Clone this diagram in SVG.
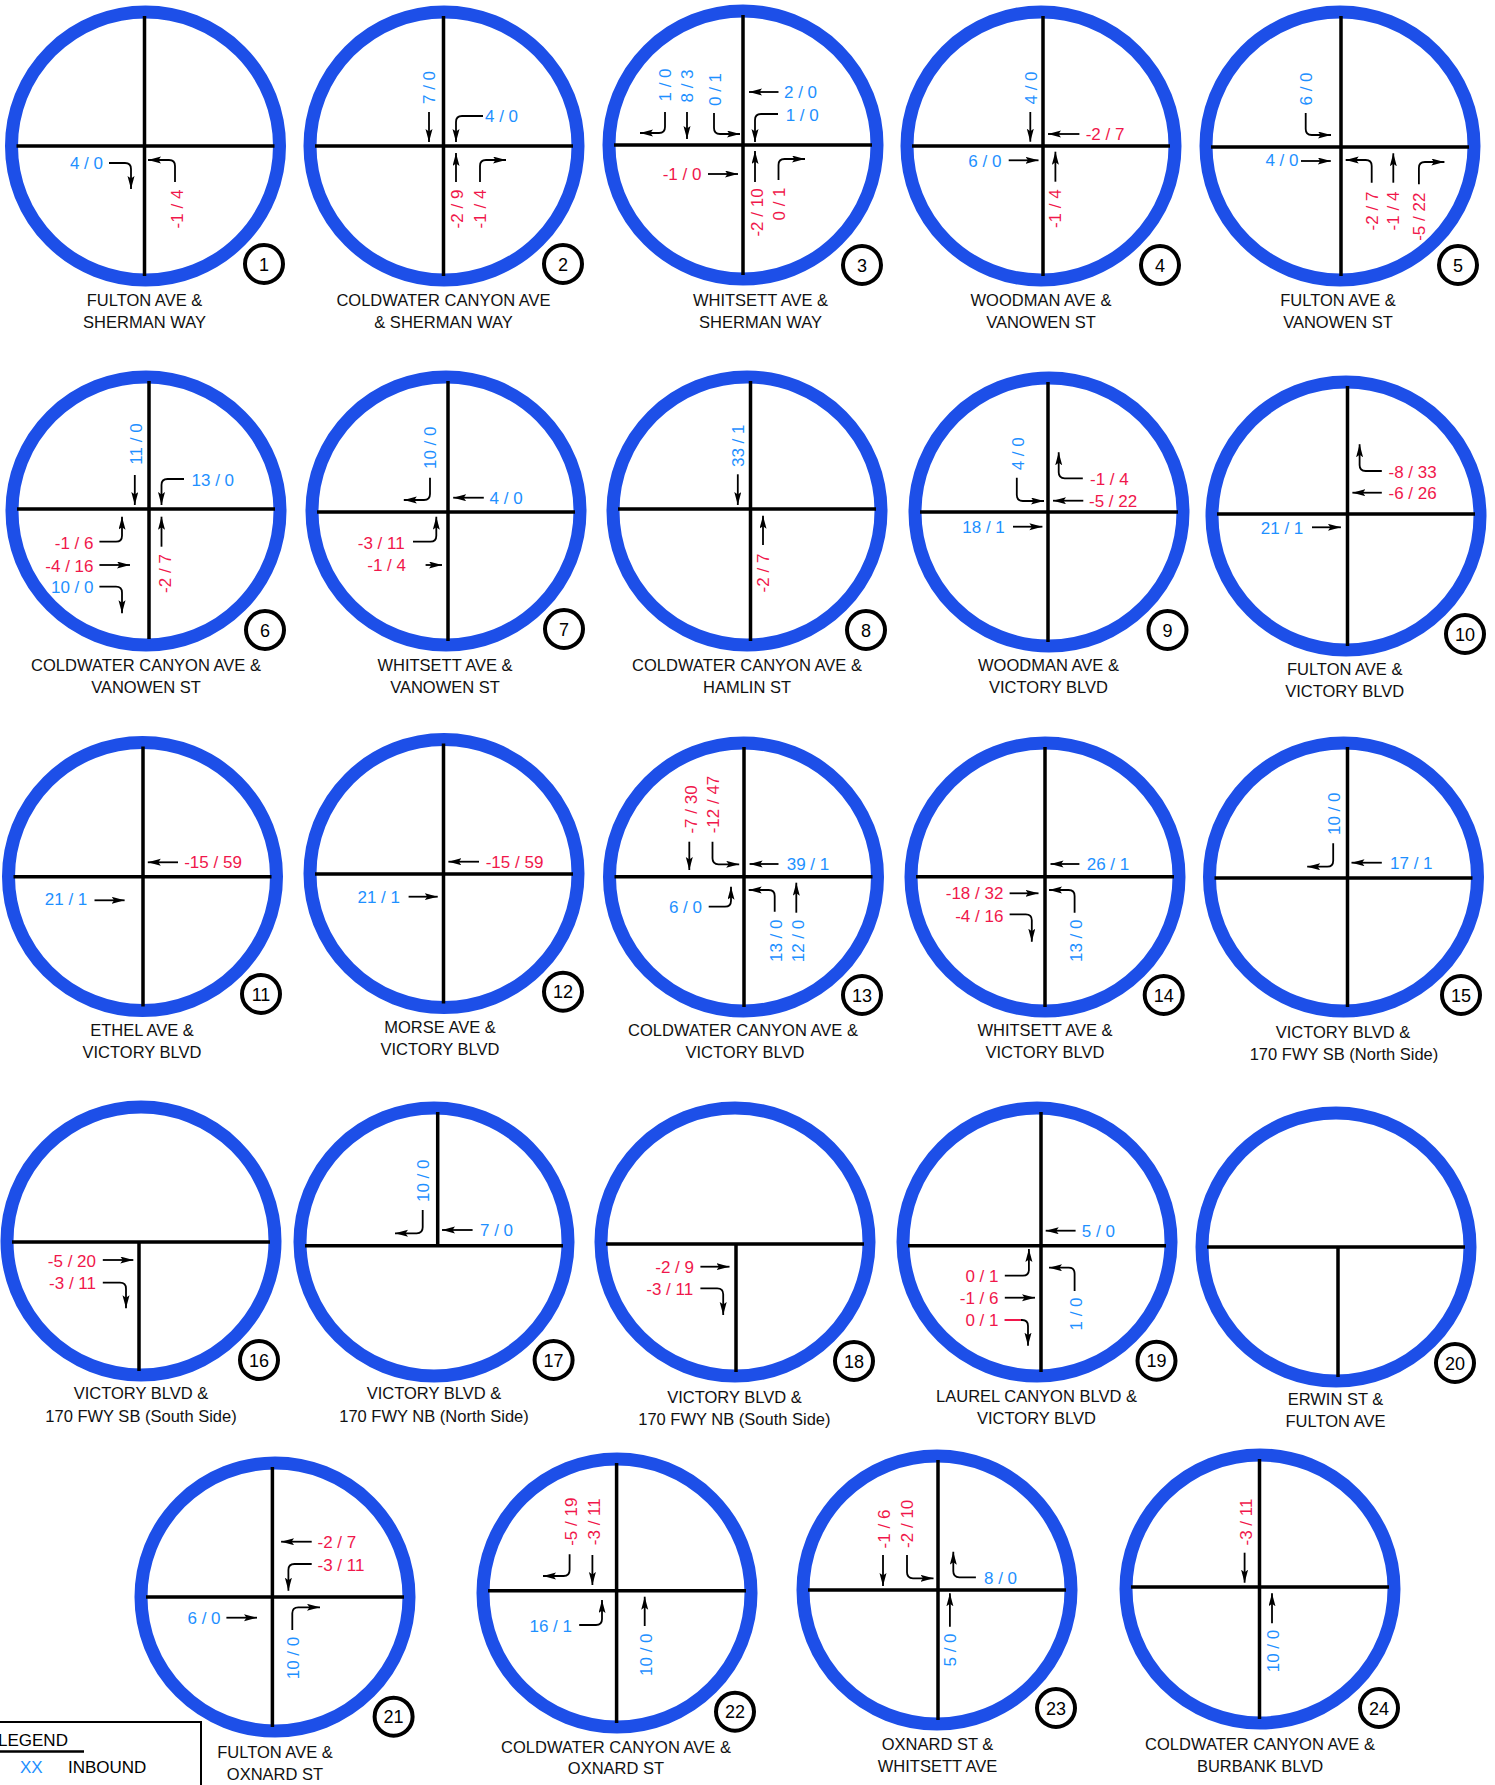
<svg xmlns="http://www.w3.org/2000/svg" width="1495" height="1785" viewBox="0 0 1495 1785">
<defs>
<marker id="ah" markerUnits="userSpaceOnUse" markerWidth="14" markerHeight="8" refX="13" refY="3.5" orient="auto"><path d="M0,0 L13,3.5 L0,7 L2.5,3.5 z" fill="#000"/></marker>
<style>
text{font-family:"Liberation Sans",Arial,sans-serif;font-size:17px}
.ring{fill:none;stroke:#1d4fe8;stroke-width:13}
.rd{fill:none;stroke:#000;stroke-width:3.5}
.ar{fill:none;stroke:#000;stroke-width:1.8;marker-end:url(#ah)}
.b{fill:#1e90ff}
.r{fill:#f0174b}
.e{text-anchor:end}
.v{text-anchor:middle}
.lb{font-size:16.5px;fill:#111;text-anchor:middle}
.bc{fill:#fff;stroke:#000;stroke-width:4}
.bn{font-size:18px;text-anchor:middle;fill:#000}
</style>
</defs>
<rect width="1495" height="1785" fill="#fff"/>

<g id="n1">
<circle class="ring" cx="145.5" cy="146" r="134"/>
<path class="rd" d="M16.5,146 H274.5 M144.5,16 V276"/>
<path class="ar" d="M109,163 H125 Q131,163 131,169 V189"/>
<path class="ar" d="M175,182 V166 Q175,160 169,160 H148"/>
<text class="b e" x="103" y="169">4 / 0</text>
<text class="r v" transform="translate(177,209) rotate(-90)" y="6">-1 / 4</text>
<circle class="bc" cx="264" cy="264" r="19"/><text class="bn" x="264" y="270.5">1</text>
<text class="lb" x="144.5" y="306">FULTON AVE &amp;</text><text class="lb" x="144.5" y="328">SHERMAN WAY</text>
</g>

<g id="n2">
<circle class="ring" cx="444" cy="146" r="134"/>
<path class="rd" d="M315,146 H573 M443.5,16 V276"/>
<path class="ar" d="M429,112 V142"/>
<path class="ar" d="M483,116 H462 Q456,116 456,122 V142"/>
<path class="ar" d="M456,182 V153"/>
<path class="ar" d="M480,182 V166 Q480,160 486,160 H506"/>
<text class="b v" transform="translate(429,87.5) rotate(-90)" y="6">7 / 0</text>
<text class="b" x="485" y="122">4 / 0</text>
<text class="r v" transform="translate(457,209) rotate(-90)" y="6">-2 / 9</text>
<text class="r v" transform="translate(480,209) rotate(-90)" y="6">-1 / 4</text>
<circle class="bc" cx="563" cy="264" r="19"/><text class="bn" x="563" y="270.5">2</text>
<text class="lb" x="443.5" y="306">COLDWATER CANYON AVE</text><text class="lb" x="443.5" y="328">&amp; SHERMAN WAY</text>
</g>

<g id="n3">
<circle class="ring" cx="743" cy="145" r="134"/>
<path class="rd" d="M614,145 H872 M743,15 V275"/>
<path class="ar" d="M665,112 V127 Q665,133 659,133 H640"/>
<path class="ar" d="M687,112 V139"/>
<path class="ar" d="M714,113 V128 Q714,134 720,134 H740"/>
<path class="ar" d="M708,174 H738"/>
<path class="ar" d="M755,182 V151"/>
<path class="ar" d="M778,114 H761 Q755,114 755,120 V142"/>
<path class="ar" d="M778.5,92 H749"/>
<path class="ar" d="M778.5,180 V165 Q778.5,159 784.5,159 H805"/>
<text class="b v" transform="translate(665,85) rotate(-90)" y="6">1 / 0</text>
<text class="b v" transform="translate(687,86) rotate(-90)" y="6">8 / 3</text>
<text class="b v" transform="translate(715,89.5) rotate(-90)" y="6">0 / 1</text>
<text class="b" x="784" y="98.3">2 / 0</text>
<text class="b" x="785.7" y="120.7">1 / 0</text>
<text class="r e" x="701.4" y="180">-1 / 0</text>
<text class="r v" transform="translate(757,212.5) rotate(-90)" y="6">-2 / 10</text>
<text class="r v" transform="translate(778.5,204) rotate(-90)" y="6">0 / 1</text>
<circle class="bc" cx="862" cy="265" r="19"/><text class="bn" x="862" y="271.5">3</text>
<text class="lb" x="760.5" y="306">WHITSETT AVE &amp;</text><text class="lb" x="760.5" y="328">SHERMAN WAY</text>
</g>

<g id="n4">
<circle class="ring" cx="1041" cy="146" r="134"/>
<path class="rd" d="M912,146 H1170 M1043,16 V276"/>
<path class="ar" d="M1030.3,112 V141.7"/>
<path class="ar" d="M1079.4,134 H1048"/>
<path class="ar" d="M1008.7,160.3 H1038.5"/>
<path class="ar" d="M1055.4,181.7 V151.7"/>
<text class="b v" transform="translate(1031,88) rotate(-90)" y="6">4 / 0</text>
<text class="r" x="1085.7" y="140">-2 / 7</text>
<text class="b e" x="1001.4" y="166.7">6 / 0</text>
<text class="r v" transform="translate(1055.4,208.7) rotate(-90)" y="6">-1 / 4</text>
<circle class="bc" cx="1160" cy="265" r="19"/><text class="bn" x="1160" y="271.5">4</text>
<text class="lb" x="1041" y="306">WOODMAN AVE &amp;</text><text class="lb" x="1041" y="328">VANOWEN ST</text>
</g>

<g id="n5">
<circle class="ring" cx="1340" cy="146" r="134"/>
<path class="rd" d="M1211,147 H1469 M1341,16 V276"/>
<path class="ar" d="M1305.7,113 V129 Q1305.7,135 1311.7,135 H1331"/>
<path class="ar" d="M1301,161 H1330.8"/>
<path class="ar" d="M1371.7,182.7 V166 Q1371.7,160 1365.7,160 H1345.7"/>
<path class="ar" d="M1393.3,182.7 V153.3"/>
<path class="ar" d="M1418.9,184.3 V168 Q1418.9,162 1424.9,162 H1444.4"/>
<text class="b v" transform="translate(1305.7,89) rotate(-90)" y="6">6 / 0</text>
<text class="b e" x="1298.5" y="165.7">4 / 0</text>
<text class="r v" transform="translate(1371.7,211) rotate(-90)" y="6">-2 / 7</text>
<text class="r v" transform="translate(1393.3,211) rotate(-90)" y="6">-1 / 4</text>
<text class="r v" transform="translate(1418.9,216.7) rotate(-90)" y="6">-5 / 22</text>
<circle class="bc" cx="1458" cy="265" r="19"/><text class="bn" x="1458" y="271.5">5</text>
<text class="lb" x="1338" y="306">FULTON AVE &amp;</text><text class="lb" x="1338" y="328">VANOWEN ST</text>
</g>

<g id="n6">
<circle class="ring" cx="146" cy="511" r="134"/>
<path class="rd" d="M17,509 H275 M149,381 V639"/>
<path class="ar" d="M134.8,475 V505"/>
<path class="ar" d="M184,479 H167.5 Q161.5,479 161.5,485 V505"/>
<path class="ar" d="M161.5,546.7 V516.7"/>
<path class="ar" d="M99.4,541.7 H116 Q122,541.7 122,535.7 V516.7"/>
<path class="ar" d="M99.4,565 H130"/>
<path class="ar" d="M99.4,586.7 H116 Q122,586.7 122,592.7 V613.3"/>
<text class="b v" transform="translate(135.7,444) rotate(-90)" y="6">11 / 0</text>
<text class="b" x="191.5" y="485.7">13 / 0</text>
<text class="r v" transform="translate(164.8,573.5) rotate(-90)" y="6">-2 / 7</text>
<text class="r e" x="93.5" y="549">-1 / 6</text>
<text class="r e" x="93.5" y="571.7">-4 / 16</text>
<text class="b e" x="93.5" y="593.3">10 / 0</text>
<circle class="bc" cx="265" cy="630" r="19"/><text class="bn" x="265" y="636.5">6</text>
<text class="lb" x="146" y="671">COLDWATER CANYON AVE &amp;</text><text class="lb" x="146" y="693">VANOWEN ST</text>
</g>

<g id="n7">
<circle class="ring" cx="446" cy="511" r="134"/>
<path class="rd" d="M317,512 H575 M448,381 V641"/>
<path class="ar" d="M430,477.7 V494 Q430,500 424,500 H403.8"/>
<path class="ar" d="M483.8,497.7 H453.2"/>
<path class="ar" d="M413,541.7 H430.3 Q436.3,541.7 436.3,535.7 V516.7"/>
<path class="ar" d="M425.6,565 H442"/>
<text class="b v" transform="translate(430.4,447.8) rotate(-90)" y="6">10 / 0</text>
<text class="b" x="489.6" y="504">4 / 0</text>
<text class="r e" x="404.7" y="549.3">-3 / 11</text>
<text class="r e" x="406" y="570.7">-1 / 4</text>
<circle class="bc" cx="564" cy="629" r="19"/><text class="bn" x="564" y="635.5">7</text>
<text class="lb" x="445" y="671">WHITSETT AVE &amp;</text><text class="lb" x="445" y="693">VANOWEN ST</text>
</g>

<g id="n8">
<circle class="ring" cx="747" cy="511" r="134"/>
<path class="rd" d="M618,509 H876 M750.5,381 V641"/>
<path class="ar" d="M737.8,474.3 V505"/>
<path class="ar" d="M763,545 V515.7"/>
<text class="b v" transform="translate(737.8,445.8) rotate(-90)" y="6">33 / 1</text>
<text class="r v" transform="translate(763,573) rotate(-90)" y="6">-2 / 7</text>
<circle class="bc" cx="866" cy="630" r="19"/><text class="bn" x="866" y="636.5">8</text>
<text class="lb" x="747" y="671">COLDWATER CANYON AVE &amp;</text><text class="lb" x="747" y="693">HAMLIN ST</text>
</g>

<g id="n9">
<circle class="ring" cx="1049" cy="512" r="134"/>
<path class="rd" d="M920,512 H1178 M1048,382 V642"/>
<path class="ar" d="M1016.8,477.7 V495 Q1016.8,501 1022.8,501 H1044"/>
<path class="ar" d="M1083.3,500.7 H1053"/>
<path class="ar" d="M1082.8,478.3 H1064.7 Q1058.7,478.3 1058.7,472.3 V452.3"/>
<path class="ar" d="M1013,526.7 H1042.4"/>
<text class="b v" transform="translate(1018.3,453.8) rotate(-90)" y="6">4 / 0</text>
<text class="r" x="1089" y="507.3">-5 / 22</text>
<text class="r" x="1090" y="485">-1 / 4</text>
<text class="b e" x="1004.8" y="533.3">18 / 1</text>
<circle class="bc" cx="1167.5" cy="630" r="19"/><text class="bn" x="1167.5" y="636.5">9</text>
<text class="lb" x="1048.5" y="671">WOODMAN AVE &amp;</text><text class="lb" x="1048.5" y="693">VICTORY BLVD</text>
</g>

<g id="n10">
<circle class="ring" cx="1346" cy="516" r="134"/>
<path class="rd" d="M1217,514 H1475 M1347.5,386 V646"/>
<path class="ar" d="M1381.8,471 H1365.6 Q1359.6,471 1359.6,465 V444.3"/>
<path class="ar" d="M1381.8,492.7 H1352.4"/>
<path class="ar" d="M1312,527.3 H1340.9"/>
<text class="r" x="1388.5" y="477.7">-8 / 33</text>
<text class="r" x="1388.5" y="499.3">-6 / 26</text>
<text class="b e" x="1303.3" y="534">21 / 1</text>
<circle class="bc" cx="1465" cy="634" r="19"/><text class="bn" x="1465" y="640.5">10</text>
<text class="lb" x="1344.7" y="675">FULTON AVE &amp;</text><text class="lb" x="1344.7" y="697">VICTORY BLVD</text>
</g>

<g id="n11">
<circle class="ring" cx="142.5" cy="876.5" r="134"/>
<path class="rd" d="M13.5,876.7 H271.5 M143,746.5 V1006.5"/>
<path class="ar" d="M178,862.3 H147.8"/>
<path class="ar" d="M94.5,900.3 H124.6"/>
<text class="r" x="184.2" y="868.3">-15 / 59</text>
<text class="b e" x="87.3" y="905">21 / 1</text>
<circle class="bc" cx="261" cy="994" r="19"/><text class="bn" x="261" y="1000.5">11</text>
<text class="lb" x="142" y="1036">ETHEL AVE &amp;</text><text class="lb" x="142" y="1058">VICTORY BLVD</text>
</g>

<g id="n12">
<circle class="ring" cx="444" cy="873.5" r="134"/>
<path class="rd" d="M315,874 H573 M443.5,743.5 V1003.5"/>
<path class="ar" d="M479,861.7 H448.4"/>
<path class="ar" d="M408.6,896.7 H437.7"/>
<text class="r" x="485.7" y="868.3">-15 / 59</text>
<text class="b e" x="400" y="903.3">21 / 1</text>
<circle class="bc" cx="563" cy="991.7" r="19"/><text class="bn" x="563" y="998.2">12</text>
<text class="lb" x="440" y="1033">MORSE AVE &amp;</text><text class="lb" x="440" y="1055">VICTORY BLVD</text>
</g>

<g id="n13">
<circle class="ring" cx="743.5" cy="877" r="134"/>
<path class="rd" d="M614.5,876.7 H872.5 M744,747 V1007"/>
<path class="ar" d="M689.3,841.7 V870"/>
<path class="ar" d="M712.5,841.7 V858.3 Q712.5,864.3 718.5,864.3 H739.2"/>
<path class="ar" d="M708.7,906.7 H725 Q731,906.7 731,900.7 V886.7"/>
<path class="ar" d="M778.5,864 H749.6"/>
<path class="ar" d="M774.7,911.7 V896 Q774.7,890 768.7,890 H748.7"/>
<path class="ar" d="M796.3,912.7 V882.7"/>
<text class="r v" transform="translate(690.7,809.5) rotate(-90)" y="6">-7 / 30</text>
<text class="r v" transform="translate(712.5,804.5) rotate(-90)" y="6">-12 / 47</text>
<text class="b e" x="702" y="913.3">6 / 0</text>
<text class="b" x="786.7" y="870">39 / 1</text>
<text class="b v" transform="translate(776,940.8) rotate(-90)" y="6">13 / 0</text>
<text class="b v" transform="translate(797.8,941) rotate(-90)" y="6">12 / 0</text>
<circle class="bc" cx="862" cy="995" r="19"/><text class="bn" x="862" y="1001.5">13</text>
<text class="lb" x="743" y="1036">COLDWATER CANYON AVE &amp;</text><text class="lb" x="745" y="1058">VICTORY BLVD</text>
</g>

<g id="n14">
<circle class="ring" cx="1045" cy="877" r="134"/>
<path class="rd" d="M916,876.7 H1174 M1045,747 V1007"/>
<path class="ar" d="M1079.4,864 H1050.5"/>
<path class="ar" d="M1009.6,893.3 H1038.5"/>
<path class="ar" d="M1009.6,914.3 H1025.8 Q1031.8,914.3 1031.8,920.3 V941.7"/>
<path class="ar" d="M1074.6,912.7 V896 Q1074.6,890 1068.6,890 H1049"/>
<text class="b" x="1086.7" y="870">26 / 1</text>
<text class="r e" x="1003.4" y="899.3">-18 / 32</text>
<text class="r e" x="1003.4" y="921.7">-4 / 16</text>
<text class="b v" transform="translate(1075.6,940.8) rotate(-90)" y="6">13 / 0</text>
<circle class="bc" cx="1163.7" cy="995" r="19"/><text class="bn" x="1163.7" y="1001.5">14</text>
<text class="lb" x="1045" y="1036">WHITSETT AVE &amp;</text><text class="lb" x="1045" y="1058">VICTORY BLVD</text>
</g>

<g id="n15">
<circle class="ring" cx="1343.5" cy="877" r="134"/>
<path class="rd" d="M1214.5,878 H1472.5 M1347.5,747 V1007"/>
<path class="ar" d="M1333.2,843.3 V860.7 Q1333.2,866.7 1327.2,866.7 H1307.2"/>
<path class="ar" d="M1381.8,862.7 H1351.5"/>
<text class="b v" transform="translate(1333.6,813.8) rotate(-90)" y="6">10 / 0</text>
<text class="b" x="1390" y="869.3">17 / 1</text>
<circle class="bc" cx="1461" cy="995" r="19"/><text class="bn" x="1461" y="1001.5">15</text>
<text class="lb" x="1343" y="1038">VICTORY BLVD &amp;</text><text class="lb" x="1344" y="1060">170 FWY SB (North Side)</text>
</g>

<g id="n16">
<circle class="ring" cx="141" cy="1241" r="134"/>
<path class="rd" d="M12,1242 H270 M139,1242 V1371"/>
<path class="ar" d="M102.8,1260 H133.3"/>
<path class="ar" d="M102.8,1282.7 H120 Q126,1282.7 126,1288.7 V1308.3"/>
<text class="r e" x="96" y="1266.7">-5 / 20</text>
<text class="r e" x="96" y="1289">-3 / 11</text>
<circle class="bc" cx="259" cy="1360" r="19"/><text class="bn" x="259" y="1366.5">16</text>
<text class="lb" x="141" y="1399">VICTORY BLVD &amp;</text><text class="lb" x="141" y="1422">170 FWY SB (South Side)</text>
</g>

<g id="n17">
<circle class="ring" cx="434" cy="1242" r="134"/>
<path class="rd" d="M305,1245.7 H563 M437.7,1112 V1245.7"/>
<path class="ar" d="M422.7,1210 V1227.3 Q422.7,1233.3 416.7,1233.3 H395"/>
<path class="ar" d="M472.6,1230 H442"/>
<text class="b v" transform="translate(423.2,1180.8) rotate(-90)" y="6">10 / 0</text>
<text class="b" x="480" y="1236">7 / 0</text>
<circle class="bc" cx="553.6" cy="1360" r="19"/><text class="bn" x="553.6" y="1366.5">17</text>
<text class="lb" x="434" y="1399">VICTORY BLVD &amp;</text><text class="lb" x="434" y="1422">170 FWY NB (North Side)</text>
</g>

<g id="n18">
<circle class="ring" cx="735" cy="1242" r="134"/>
<path class="rd" d="M606,1244 H864 M736,1244 V1372"/>
<path class="ar" d="M700.4,1266.7 H729.5"/>
<path class="ar" d="M700.4,1288.3 H717.2 Q723.2,1288.3 723.2,1294.3 V1315"/>
<text class="r e" x="694" y="1272.7">-2 / 9</text>
<text class="r e" x="693.2" y="1295">-3 / 11</text>
<circle class="bc" cx="854" cy="1361" r="19"/><text class="bn" x="854" y="1367.5">18</text>
<text class="lb" x="734.4" y="1403">VICTORY BLVD &amp;</text><text class="lb" x="734.4" y="1425">170 FWY NB (South Side)</text>
</g>

<g id="n19">
<circle class="ring" cx="1037" cy="1242" r="134"/>
<path class="rd" d="M908,1245.7 H1166 M1041,1112 V1372"/>
<path class="ar" d="M1075.6,1230.7 H1045.7"/>
<path class="ar" d="M1004.8,1275.7 H1022.9 Q1028.9,1275.7 1028.9,1269.7 V1249"/>
<path class="ar" d="M1004.8,1297.7 H1035"/>
<path class="ar" d="M1004.8,1320 H1022 Q1028,1320 1028,1326 V1345.7"/>
<path d="M1004.8,1320 H1021" stroke="#f0174b" stroke-width="2"/>
<path class="ar" d="M1074.6,1291 V1273.7 Q1074.6,1267.7 1068.6,1267.7 H1049"/>
<text class="b" x="1081.8" y="1236.7">5 / 0</text>
<text class="r e" x="998.5" y="1281.7">0 / 1</text>
<text class="r e" x="998.5" y="1304">-1 / 6</text>
<text class="r e" x="998.5" y="1326">0 / 1</text>
<text class="b v" transform="translate(1075.6,1314) rotate(-90)" y="6">1 / 0</text>
<circle class="bc" cx="1156.5" cy="1360.7" r="19"/><text class="bn" x="1156.5" y="1367.2">19</text>
<text class="lb" x="1036.5" y="1402">LAUREL CANYON BLVD &amp;</text><text class="lb" x="1036.5" y="1424">VICTORY BLVD</text>
</g>

<g id="n20">
<circle class="ring" cx="1336" cy="1247" r="134"/>
<path class="rd" d="M1207,1247 H1465 M1338,1247 V1377"/>
<circle class="bc" cx="1455" cy="1363" r="19"/><text class="bn" x="1455" y="1369.5">20</text>
<text class="lb" x="1335.5" y="1405">ERWIN ST &amp;</text><text class="lb" x="1335.5" y="1427">FULTON AVE</text>
</g>

<g id="n21">
<circle class="ring" cx="275" cy="1597" r="134"/>
<path class="rd" d="M146,1597 H404 M272.4,1467 V1727"/>
<path class="ar" d="M311.7,1541.7 H281.1"/>
<path class="ar" d="M311.7,1564 H294.4 Q288.4,1564 288.4,1570 V1590.7"/>
<path class="ar" d="M226.4,1617.7 H257"/>
<path class="ar" d="M292.3,1630 V1613.3 Q292.3,1607.3 298.3,1607.3 H320"/>
<text class="r" x="317.5" y="1548.3">-2 / 7</text>
<text class="r" x="317.5" y="1570.7">-3 / 11</text>
<text class="b e" x="220.6" y="1624.3">6 / 0</text>
<text class="b v" transform="translate(293.3,1658) rotate(-90)" y="6">10 / 0</text>
<circle class="bc" cx="393.6" cy="1716.7" r="19"/><text class="bn" x="393.6" y="1723.2">21</text>
<text class="lb" x="275" y="1758">FULTON AVE &amp;</text><text class="lb" x="275" y="1780">OXNARD ST</text>
</g>

<g id="n22">
<circle class="ring" cx="617" cy="1593" r="134"/>
<path class="rd" d="M488,1590.7 H746 M616.6,1463 V1723"/>
<path class="ar" d="M569.6,1554.3 V1570 Q569.6,1576 563.6,1576 H543"/>
<path class="ar" d="M592.4,1555 V1585"/>
<path class="ar" d="M579.2,1625 H596 Q602,1625 602,1619 V1600"/>
<path class="ar" d="M644.7,1626 V1596.7"/>
<text class="r v" transform="translate(571,1521.7) rotate(-90)" y="6">-5 / 19</text>
<text class="r v" transform="translate(593.8,1521.7) rotate(-90)" y="6">-3 / 11</text>
<text class="b e" x="572" y="1631.7">16 / 1</text>
<text class="b v" transform="translate(646.1,1654.7) rotate(-90)" y="6">10 / 0</text>
<circle class="bc" cx="735" cy="1711.7" r="19"/><text class="bn" x="735" y="1718.2">22</text>
<text class="lb" x="616" y="1753">COLDWATER CANYON AVE &amp;</text><text class="lb" x="616" y="1774">OXNARD ST</text>
</g>

<g id="n23">
<circle class="ring" cx="937" cy="1590" r="134"/>
<path class="rd" d="M808,1590 H1066 M938,1460 V1720"/>
<path class="ar" d="M883,1555 V1586"/>
<path class="ar" d="M907,1555 V1572.3 Q907,1578.3 913,1578.3 H933.5"/>
<path class="ar" d="M975.9,1577.3 H959.3 Q953.3,1577.3 953.3,1571.3 V1551.7"/>
<path class="ar" d="M949.9,1626.7 V1593.3"/>
<text class="r v" transform="translate(883.5,1529) rotate(-90)" y="6">-1 / 6</text>
<text class="r v" transform="translate(907,1523.8) rotate(-90)" y="6">-2 / 10</text>
<text class="b" x="984" y="1584.3">8 / 0</text>
<text class="b v" transform="translate(950.4,1650) rotate(-90)" y="6">5 / 0</text>
<circle class="bc" cx="1056" cy="1708" r="19"/><text class="bn" x="1056" y="1714.5">23</text>
<text class="lb" x="937.5" y="1750">OXNARD ST &amp;</text><text class="lb" x="937.5" y="1772">WHITSETT AVE</text>
</g>

<g id="n24">
<circle class="ring" cx="1260" cy="1589" r="134"/>
<path class="rd" d="M1131,1587 H1389 M1259.5,1459 V1719"/>
<path class="ar" d="M1244.6,1552.7 V1582.7"/>
<path class="ar" d="M1272,1623.3 V1593.3"/>
<text class="r v" transform="translate(1245.5,1522) rotate(-90)" y="6">-3 / 11</text>
<text class="b v" transform="translate(1273,1651) rotate(-90)" y="6">10 / 0</text>
<circle class="bc" cx="1379" cy="1708" r="19"/><text class="bn" x="1379" y="1714.5">24</text>
<text class="lb" x="1260" y="1750">COLDWATER CANYON AVE &amp;</text><text class="lb" x="1260" y="1772">BURBANK BLVD</text>
</g>

<g id="legend">
<path d="M-2,1722 H201 V1790" fill="none" stroke="#000" stroke-width="2"/>
<text x="-2" y="1746" font-size="21" fill="#000">LEGEND</text>
<path d="M-2,1751.5 H84" stroke="#000" stroke-width="2.5"/>
<text x="20" y="1773" font-size="21" class="b">XX</text>
<text x="68" y="1773" font-size="21" fill="#000">INBOUND</text>
<text x="20" y="1797" font-size="21" class="r">XX</text>
<text x="68" y="1797" font-size="21" fill="#000">OUTBOUND</text>
</g>
<text x="671" y="1797" font-size="27" font-weight="bold" fill="#000">FIGURE 7d</text>
</svg>
